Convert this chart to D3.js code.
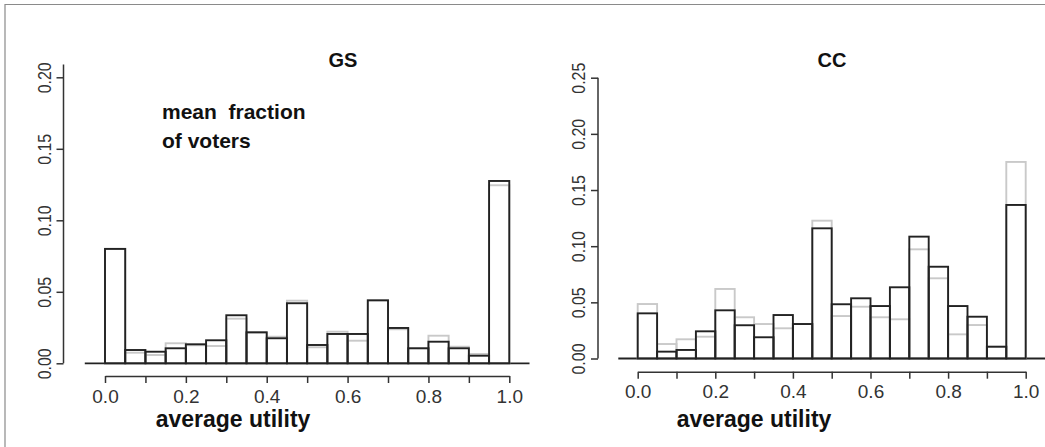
<!DOCTYPE html>
<html>
<head>
<meta charset="utf-8">
<script src="https://cdn.jsdelivr.net/npm/d3@7"></script>
<style>
  body { margin: 0; background: #fff; }
  svg { display: block; font-family: "Liberation Sans", Arial, Helvetica, sans-serif; }
</style>
</head>
<body>
<div id="chart"></div>
<script>
// bin starts (width 0.05)
const binStarts = [0.00, 0.05, 0.10, 0.15, 0.20, 0.25, 0.30, 0.35, 0.40, 0.45,
                   0.50, 0.55, 0.60, 0.65, 0.70, 0.75, 0.80, 0.85, 0.90, 0.95]
const binWidth = 0.05

// GS panel
const gsMain = [0.0800, 0.0093, 0.0081, 0.0105, 0.0133, 0.0161, 0.0336, 0.0217, 0.0175, 0.0420,
                0.0128, 0.0205, 0.0205, 0.0440, 0.0247, 0.0105, 0.0151, 0.0105, 0.0053, 0.1275]
const gsAlt  = [0.0800, 0.0074, 0.0058, 0.0140, 0.0126, 0.0121, 0.0312, 0.0213, 0.0186, 0.0438,
                0.0112, 0.0221, 0.0158, 0.0443, 0.0238, 0.0105, 0.0193, 0.0116, 0.0065, 0.1245]

// CC panel
const ccMain = [0.0402, 0.0061, 0.0076, 0.0242, 0.0429, 0.0296, 0.0189, 0.0387, 0.0307, 0.1159,
                0.0483, 0.0536, 0.0467, 0.0634, 0.1085, 0.0817, 0.0467, 0.0372, 0.0105, 0.1367]
const ccAlt  = [0.0485, 0.0129, 0.0171, 0.0194, 0.0619, 0.0367, 0.0307, 0.0269, 0.0307, 0.1227,
                0.0378, 0.0461, 0.0367, 0.0349, 0.0972, 0.0714, 0.0215, 0.0298, 0.0105, 0.1750]

const xTicks = [0, 0.1, 0.2, 0.3, 0.4, 0.5, 0.6, 0.7, 0.8, 0.9, 1.0]
const xLabels = ['0.0', '', '0.2', '', '0.4', '', '0.6', '', '0.8', '', '1.0']
const gsYTicks = [0, 0.05, 0.10, 0.15, 0.20]
const ccYTicks = [0, 0.05, 0.10, 0.15, 0.20, 0.25]

const W = 1045, H = 447
const colors = { main: '#222', alt: '#c9c9c9', axis: '#333', frame: '#8a8a8a' }

const svg = d3.select('#chart').append('svg')
  .attr('width', W).attr('height', H)

// outer frame (top + left visible)
svg.append('path')
  .attr('d', 'M5,' + H + 'V4.5H' + W)
  .attr('fill', 'none').attr('stroke', colors.frame).attr('stroke-width', 1.2)

function panel (conf) {
  const x = d3.scaleLinear().domain([0, 1]).range(conf.xRange)
  const y = d3.scaleLinear().domain(conf.yDomain).range(conf.yRange)
  const g = svg.append('g')

  // histogram baseline
  g.append('line')
    .attr('x1', x(-0.05)).attr('x2', x(1.05))
    .attr('y1', y(0)).attr('y2', y(0))
    .attr('stroke', colors.main).attr('stroke-width', 1.8)

  const drawBars = (vals, color) => {
    g.append('g').selectAll('rect')
      .data(vals)
      .enter()
      .append('rect')
      .attr('x', (d, i) => x(binStarts[i]))
      .attr('width', (d, i) => x(binStarts[i] + binWidth) - x(binStarts[i]))
      .attr('y', d => y(d))
      .attr('height', d => y(0) - y(d))
      .attr('fill', 'none')
      .attr('stroke', color)
      .attr('stroke-width', 1.9)
  }
  drawBars(conf.alt, colors.alt)
  drawBars(conf.main, colors.main)

  // y axis
  const yAxis = g.append('g')
    .attr('transform', 'translate(' + conf.yAxisX + ',0)')
    .call(d3.axisLeft(y).tickValues(conf.yTicks).tickSize(7).tickSizeOuter(0).tickFormat(d3.format('.2f')))
  yAxis.select('.domain').remove()
  yAxis.append('line')
    .attr('y1', y(0)).attr('y2', y(conf.yAxisTop))
    .attr('stroke', colors.axis).attr('stroke-width', 1.5)
  yAxis.selectAll('.tick line').attr('stroke', colors.axis).attr('stroke-width', 1.5)
  yAxis.selectAll('.tick text')
    .attr('x', null).attr('dy', null)
    .attr('transform', 'translate(-13,0) rotate(-90)')
    .attr('text-anchor', 'middle')
    .attr('fill', colors.axis)
    .style('font-size', '19px')
    .attr('textLength', 31)
    .attr('lengthAdjust', 'spacingAndGlyphs')

  // x axis
  const xAxis = g.append('g')
    .attr('transform', 'translate(0,' + conf.xAxisY + ')')
    .call(d3.axisBottom(x).tickValues(xTicks).tickSize(7).tickSizeOuter(0)
      .tickFormat((d, i) => xLabels[i]))
  xAxis.select('.domain').attr('stroke', colors.axis).attr('stroke-width', 1.5)
  xAxis.selectAll('.tick line').attr('stroke', colors.axis).attr('stroke-width', 1.5)
  xAxis.selectAll('.tick text')
    .attr('y', conf.xLabelDy).attr('dy', null)
    .attr('fill', colors.axis)
    .style('font-size', '19px')

  // labels
  g.append('text')
    .attr('x', conf.titleX).attr('y', 67)
    .attr('text-anchor', 'middle')
    .style('font-weight', 'bold').style('font-size', '20px')
    .attr('fill', '#111')
    .text(conf.title)
  g.append('text')
    .attr('x', conf.xlabX).attr('y', 427)
    .attr('text-anchor', 'middle')
    .style('font-weight', 'bold').style('font-size', '23px')
    .attr('fill', '#111')
    .text('average utility')
  return g
}

const left = panel({
  xRange: [105, 509.3], yDomain: [0, 0.2], yRange: [363.3, 77.3],
  yTicks: gsYTicks, yAxisX: 63.5, yAxisTop: 0.2089, xAxisY: 376, xLabelDy: 27,
  main: gsMain, alt: gsAlt, title: 'GS', titleX: 343, xlabX: 233
})
const ylab = left.append('text')
  .style('font-weight', 'bold').style('font-size', '21px').attr('fill', '#111')
ylab.append('tspan').attr('x', 162).attr('y', 119).attr('xml:space', 'preserve').text('mean  fraction')
ylab.append('tspan').attr('x', 162).attr('y', 148).text('of voters')

panel({
  xRange: [637.7, 1025.7], yDomain: [0, 0.25], yRange: [358.5, 77.7],
  yTicks: ccYTicks, yAxisX: 598, yAxisTop: 0.25, xAxisY: 371.7, xLabelDy: 26,
  main: ccMain, alt: ccAlt, title: 'CC', titleX: 832, xlabX: 754
})
</script>
</body>
</html>
